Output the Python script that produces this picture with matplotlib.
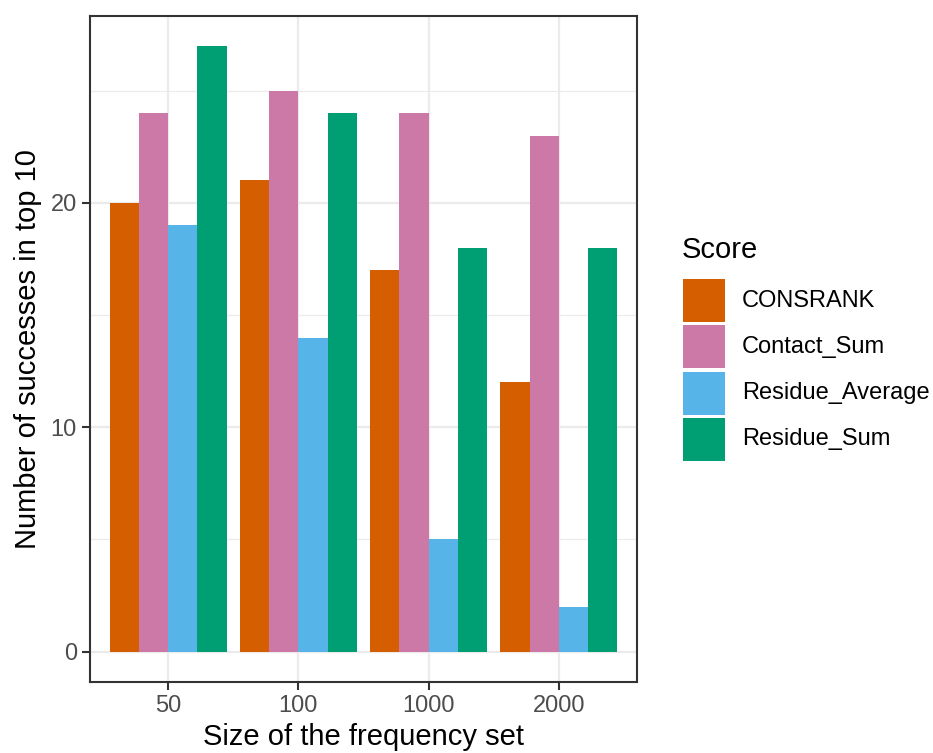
import matplotlib
matplotlib.use("Agg")
import matplotlib.pyplot as plt
from matplotlib.patches import Rectangle
import numpy as np

plt.rcParams['font.family'] = ['Liberation Sans', 'DejaVu Sans']

categories = ["50", "100", "1000", "2000"]
series_names = ["CONSRANK", "Contact_Sum", "Residue_Average", "Residue_Sum"]
consrank = [20, 21, 17, 12]
contact_sum = [24, 25, 24, 23]
residue_average = [19, 14, 5, 2]
residue_sum = [27, 24, 18, 18]
series_values = [consrank, contact_sum, residue_average, residue_sum]
colors = ["#D55E00", "#CC79A7", "#56B4E9", "#009E73"]

W, H = 933, 753
fig = plt.figure(figsize=(W / 100, H / 100), dpi=100)

# panel in pixel coords
pl, pr, pt, pb = 90, 637, 15.5, 682
ax = fig.add_axes([pl / W, 1 - pb / H, (pr - pl) / W, (pb - pt) / H])

x = np.arange(1, len(categories) + 1)
n = len(series_names)
bw = 0.9 / n
for i, (name, vals, c) in enumerate(zip(series_names, series_values, colors)):
    ax.bar(x - 0.45 + bw * (i + 0.5), vals, width=bw, color=c, label=name,
           zorder=3, linewidth=0)

ymax = max(max(v) for v in series_values)
ax.set_ylim(-0.05 * ymax, ymax * 1.05)
ax.set_xlim(0.4, 4.6)
ax.set_xticks(x)
ax.set_xticklabels(categories)
ax.set_yticks([0, 10, 20])
ax.set_yticks([5, 15, 25], minor=True)

ax.grid(which='major', color='#EBEBEB', linewidth=1.6, zorder=0)
ax.grid(which='minor', axis='y', color='#EBEBEB', linewidth=0.8, zorder=0)
ax.set_axisbelow(True)
for s in ax.spines.values():
    s.set_color('#333333')
    s.set_linewidth(1.5)

ax.tick_params(axis='both', which='major', length=5.5, width=1.5, color='#333333',
               labelcolor='#4D4D4D', labelsize=17, pad=4)
ax.tick_params(axis='both', which='minor', length=0)

ax.set_xlabel("Size of the frequency set", fontsize=21, color='black', labelpad=4)
ax.set_ylabel("Number of successes in top 10", fontsize=21, color='black', labelpad=6)

# legend (manual, pixel coordinates)
lax = fig.add_axes([0, 0, 1, 1], facecolor='none')
lax.set_xlim(0, W)
lax.set_ylim(H, 0)
lax.axis('off')
lax.text(682, 250, "Score", fontsize=21, va='center', ha='left')
key_top = 279
key_h = 43
gap = 3.3
for i, (name, c) in enumerate(zip(series_names, colors)):
    y0 = key_top + i * (key_h + gap)
    lax.add_patch(Rectangle((683, y0), 42, key_h, facecolor=c, edgecolor='none'))
    lax.text(742, y0 + key_h / 2, name, fontsize=17, va='center', ha='left')

fig.savefig("out.png", dpi=100)
